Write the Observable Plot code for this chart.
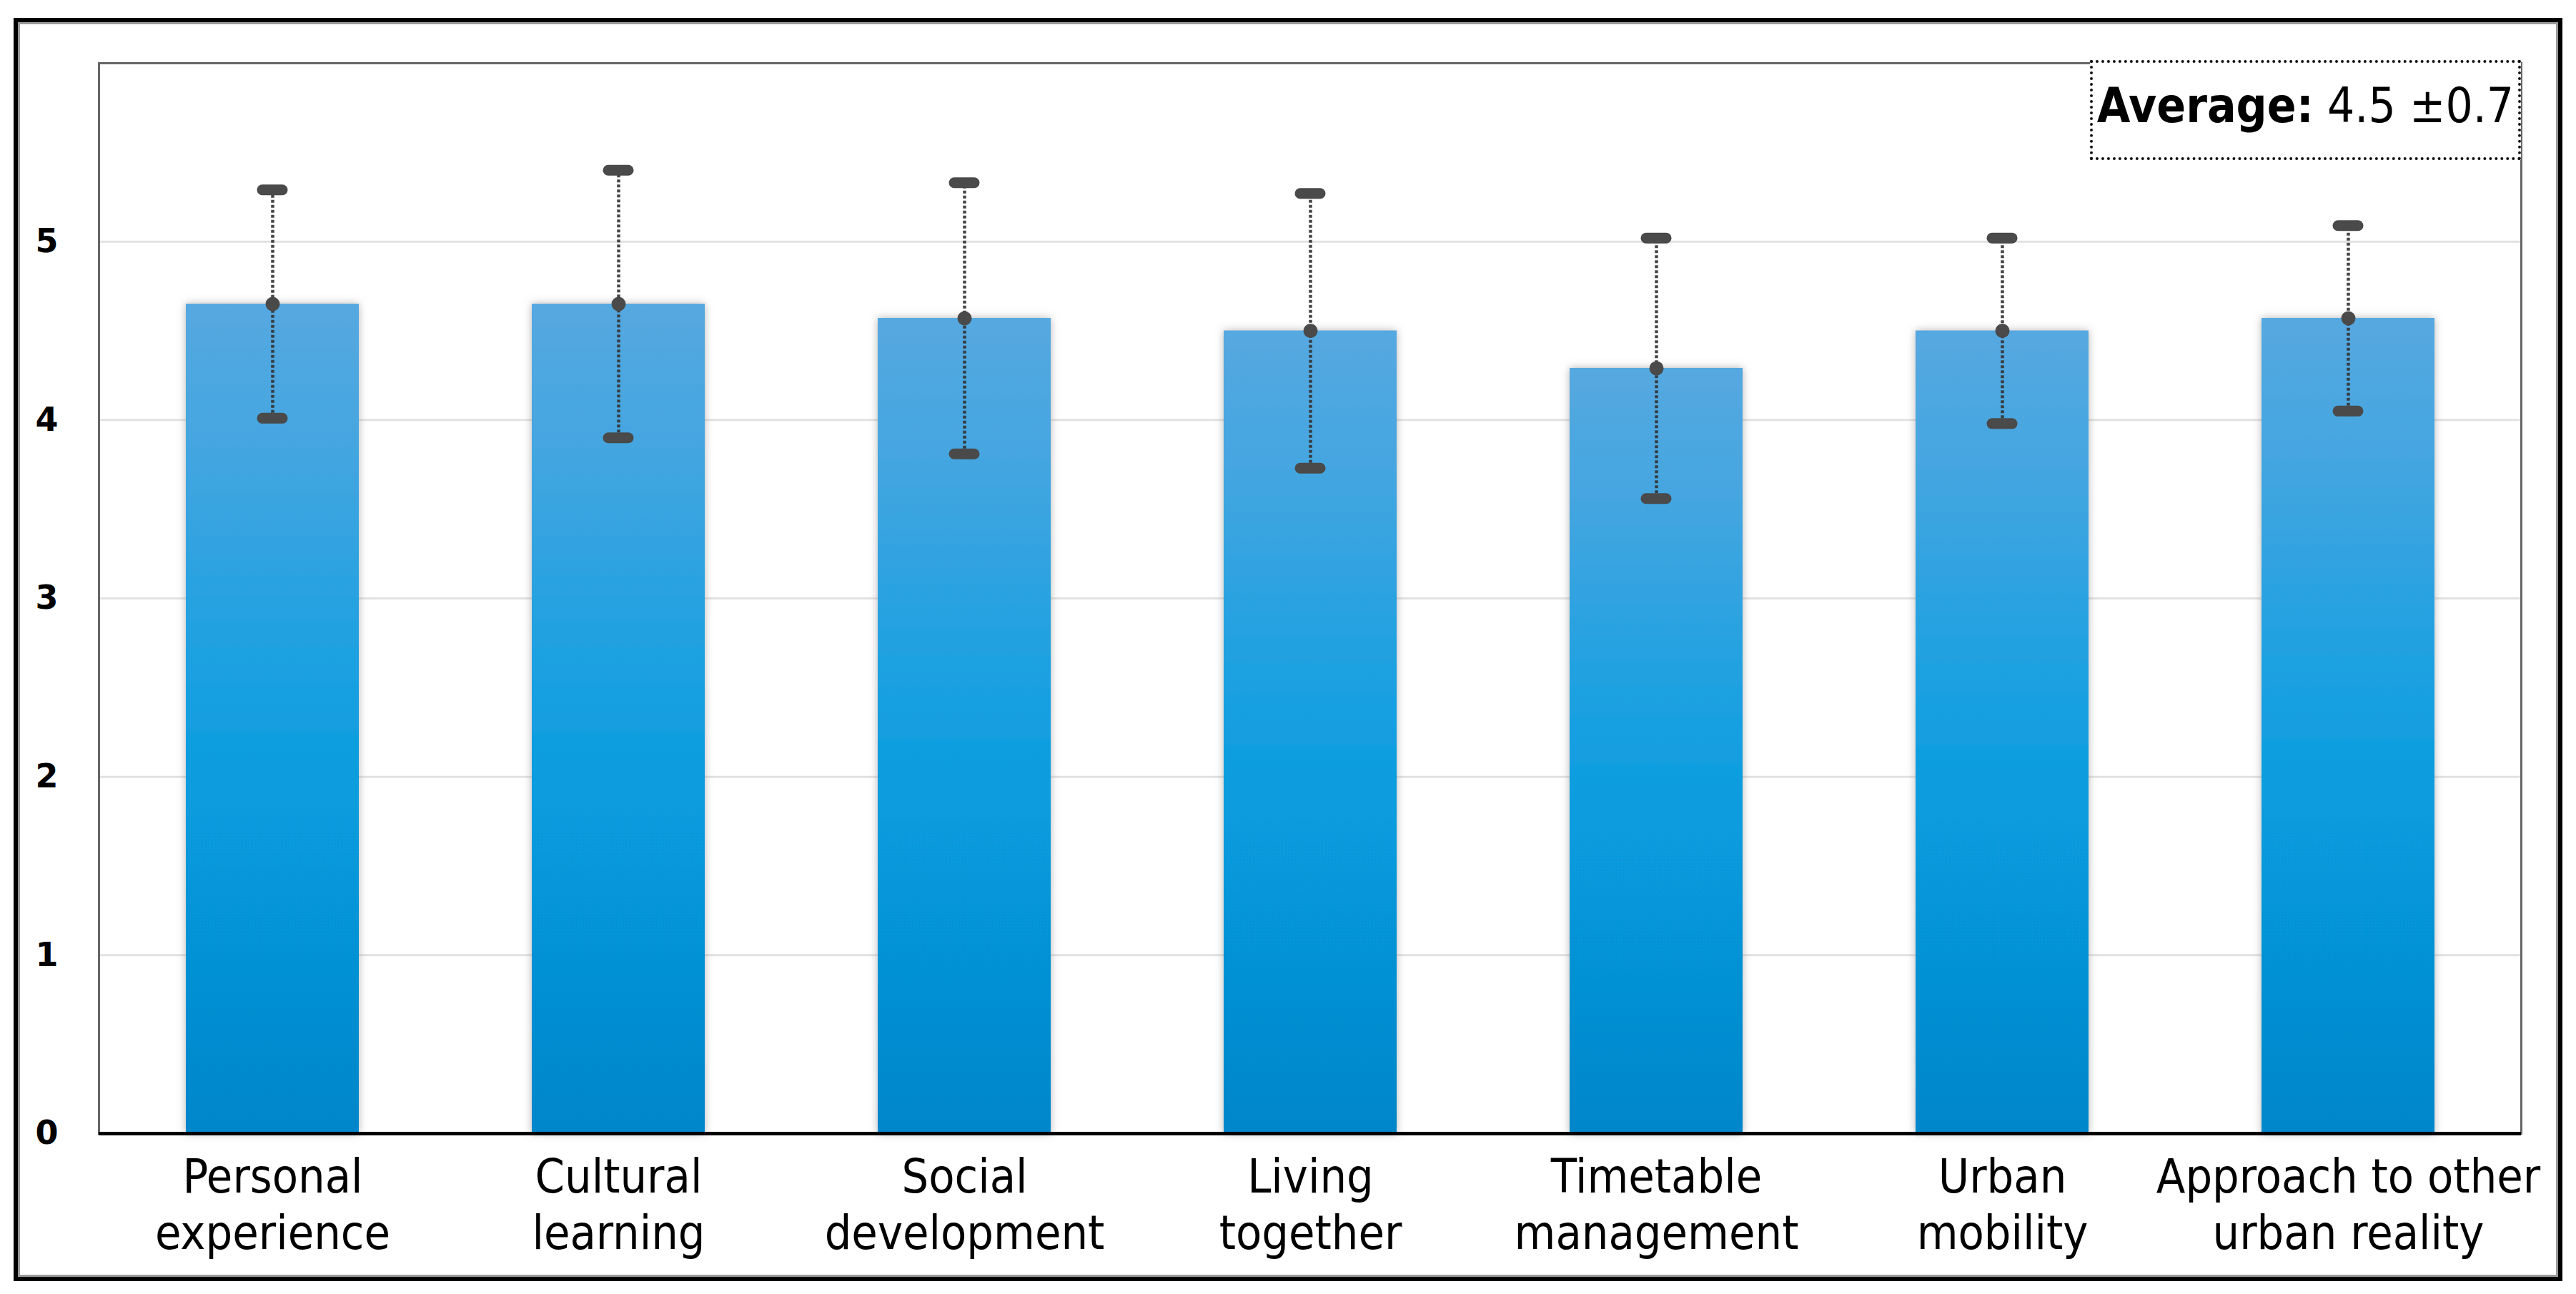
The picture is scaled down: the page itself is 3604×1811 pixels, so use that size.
<!DOCTYPE html>
<html>
<head>
<meta charset="utf-8">
<script src="https://cdn.jsdelivr.net/npm/d3@7"></script>
<script src="https://cdn.jsdelivr.net/npm/@observablehq/plot@0.6"></script>
<style>
  html, body { margin: 0; padding: 0; background: #fff; }
  #wrap { position: relative; width: 3604px; height: 1811px; overflow: hidden; }
  #outer {
    position: absolute; left: 19px; top: 25px; width: 3566px; height: 1768px;
    box-sizing: border-box; border: 6px solid #000;
    box-shadow: inset 3px 3px 0 #9a9a9a, inset -3px -3px 0 #9a9a9a;
    pointer-events: none;
  }
  #legend {
    position: absolute; left: 2924px; top: 84px; width: 603px; height: 140px;
    box-sizing: border-box; border: 4px dotted #111; background: #fff;
    font-family: "DejaVu Sans Condensed", "DejaVu Sans", sans-serif; font-size: 67px; color: #000;
    display: flex; align-items: center; justify-content: center; white-space: nowrap;
    padding-bottom: 12px;
  }
  #legend b { font-weight: bold; }
</style>
</head>
<body>
<div id="wrap">
  <div id="chart"></div>
  <div id="outer"></div>
  <div id="legend"><span><b>Average:</b> 4.5 ±0.7</span></div>
</div>
<script>
// ---- data ----
const categories = [
  "Personal experience",
  "Cultural learning",
  "Social development",
  "Living together",
  "Timetable management",
  "Urban mobility",
  "Approach to other urban reality"
];
const tickLabels = [
  "Personal\nexperience",
  "Cultural\nlearning",
  "Social\ndevelopment",
  "Living\ntogether",
  "Timetable\nmanagement",
  "Urban\nmobility",
  "Approach to other\nurban reality"
];
const means = [4.65, 4.65, 4.57, 4.50, 4.29, 4.50, 4.57];
const sds   = [0.64, 0.75, 0.76, 0.77, 0.73, 0.52, 0.52];
const yTicks = [0, 1, 2, 3, 4, 5];

const data = categories.map((c, i) => ({
  cat: c, mean: means[i], lo: means[i] - sds[i], hi: means[i] + sds[i]
}));
const labelOf = new Map(categories.map((c, i) => [c, tickLabels[i]]));

// gradient + shadow definitions
const defs = () => {
  const ns = "http://www.w3.org/2000/svg";
  const d = document.createElementNS(ns, "defs");
  d.innerHTML = `
    <linearGradient id="barGrad" x1="0" y1="0" x2="0" y2="1">
      <stop offset="0" stop-color="#56A8E0"/>
      <stop offset="0.15" stop-color="#47A6E0"/>
      <stop offset="0.45" stop-color="#1AA0E1"/>
      <stop offset="0.6" stop-color="#079CDE"/>
      <stop offset="1" stop-color="#0586CA"/>
    </linearGradient>
    <filter id="barShadow" x="-20%" y="-5%" width="140%" height="110%">
      <feDropShadow dx="0" dy="0" stdDeviation="6" flood-color="#777" flood-opacity="0.55"/>
    </filter>`;
  return d;
};

const chart = Plot.plot({
  width: 3604,
  height: 1811,
  marginLeft: 138,
  marginRight: 77,
  marginTop: 88,
  marginBottom: 225,
  style: { background: "transparent" },
  x: { domain: categories, paddingInner: 0.5, paddingOuter: 0.25, label: null },
  y: { domain: [0, 6], label: null },
  marks: [
    defs,
    Plot.gridY(yTicks.filter(d => d > 0), { stroke: "#e2e2e2", strokeOpacity: 1, strokeWidth: 3 }),
    Plot.barY(data, { x: "cat", y: "mean", fill: "url(#barGrad)" }),
    Plot.ruleX(data, { x: "cat", y1: "lo", y2: "hi", stroke: "#333", strokeWidth: 4.5, strokeDasharray: "4,3", strokeOpacity: 0.9 }),
    Plot.tickY(data, { x: "cat", y: "hi", stroke: "#4a4a4a", strokeWidth: 15, strokeLinecap: "round", insetLeft: 107, insetRight: 107 }),
    Plot.tickY(data, { x: "cat", y: "lo", stroke: "#4a4a4a", strokeWidth: 15, strokeLinecap: "round", insetLeft: 107, insetRight: 107 }),
    Plot.dot(data, { x: "cat", y: "mean", r: 10, fill: "#4a4a4a" }),
    Plot.frame({ stroke: "#666", strokeWidth: 3 }),
    Plot.ruleY([0], { stroke: "#000", strokeWidth: 5 }),
    Plot.axisY(yTicks, {
      tickSize: 0, tickPadding: 57, fontSize: 46, fontWeight: "bold",
      fontFamily: "DejaVu Sans", fill: "#000", label: null, tickFormat: d => String(d)
    }),
    Plot.axisX({
      tickSize: 0, tickPadding: 26, fontSize: 66, lineHeight: 1.2,
      fontFamily: "DejaVu Sans Condensed", fill: "#000", label: null,
      tickFormat: d => labelOf.get(d)
    })
  ]
});

chart.querySelectorAll('g[aria-label="bar"] rect').forEach(r => r.setAttribute("filter", "url(#barShadow)"));
document.getElementById("chart").appendChild(chart);
</script>
</body>
</html>
